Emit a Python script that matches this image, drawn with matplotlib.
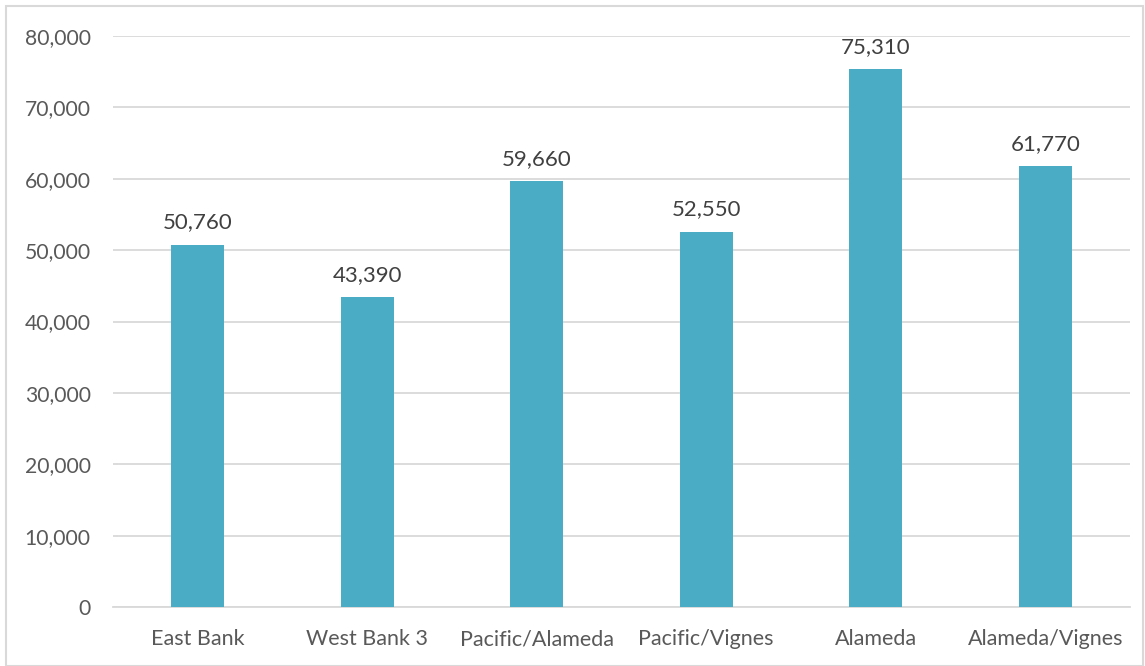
import matplotlib
matplotlib.use("Agg")
import matplotlib.pyplot as plt
from matplotlib.patches import Rectangle
from matplotlib.ticker import FuncFormatter, MultipleLocator

categories = ["East Bank", "West Bank 3", "Pacific/Alameda", "Pacific/Vignes", "Alameda", "Alameda/Vignes"]
values = [50760, 43390, 59660, 52550, 75310, 61770]

plt.rcParams["font.family"] = ["Lato", "DejaVu Sans"]
text_color = "#595959"
grid_color = "#D9D9D9"
bar_color = "#4BACC6"

W, H = 1145, 666
fig = plt.figure(figsize=(W / 100, H / 100), dpi=100)
ax = fig.add_axes([113 / W, 1 - 607 / H, (1130 - 113) / W, (607 - 36) / H])

x = range(len(categories))
bars = ax.bar(x, values, width=0.31, color=bar_color, zorder=3)
for b, v in zip(bars, values):
    ax.annotate(f"{v:,}", (b.get_x() + b.get_width() / 2, v), xytext=(0, 9),
                textcoords="offset points", ha="center", va="bottom",
                fontsize=16, color="#404040")

ax.set_xlim(-0.5, len(categories) - 0.5)
ax.set_ylim(0, 80000)
ax.yaxis.set_major_locator(MultipleLocator(10000))
ax.yaxis.set_major_formatter(FuncFormatter(lambda v, p: f"{int(v):,}"))
ax.set_xticks(list(x))
ax.set_xticklabels(categories)
ax.tick_params(axis="both", length=0, labelcolor=text_color)
ax.tick_params(axis="y", pad=16, labelsize=15.2)
ax.tick_params(axis="x", pad=16, labelsize=15.5)
ax.grid(axis="y", color=grid_color, linewidth=1.3, zorder=0)
for s in ["top", "right", "left"]:
    ax.spines[s].set_visible(False)
ax.spines["bottom"].set_color(grid_color)
ax.spines["bottom"].set_linewidth(1.3)

fig.patches.append(Rectangle((6 / W, 0), (1143 - 6) / W, 1 - 6 / H,
                             transform=fig.transFigure, fill=False,
                             edgecolor=grid_color, linewidth=1.5))

fig.savefig("out.png", dpi=100)
